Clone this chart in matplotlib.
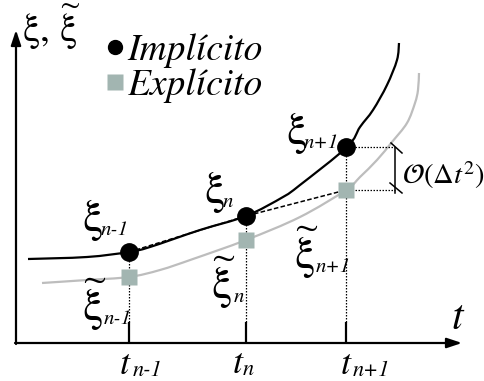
import matplotlib
matplotlib.use('Agg')
import matplotlib.pyplot as plt
from matplotlib.lines import Line2D
from matplotlib.path import Path
from matplotlib.patches import PathPatch

plt.rcParams['mathtext.fontset'] = 'stix'
plt.rcParams['font.family'] = 'STIXGeneral'

# time instants and values at them
t_ticks = [113, 230, 330]
tick_subs = ['n-1', 'n', 'n+1']
xi_impl = [91, 127, 196]
xi_expl = [66, 103, 153]

# exact (implicit) curve
impl_t = [12, 71, 113, 134, 184, 230, 267, 284, 331, 344, 357, 371, 381, 383]
impl_xi = [84, 86, 91, 96, 113, 127, 146, 158, 196, 216, 233, 258, 283, 300]

# explicit curve
expl_t = [26, 71, 113, 144, 177, 230, 284, 330, 344, 361, 376, 391, 399, 402, 403]
expl_xi = [60, 63, 66, 73, 84, 103, 126, 153, 166, 183, 201, 220, 240, 253, 270]

# labels: base symbol + subscript, each with its own anchor
point_subs = ['n-1', 'n', 'n+1']
impl_base_pos = [(66, 123), (188, 151), (270, 210)]
impl_sub_pos = [(85, 113), (207, 141), (288, 200)]
expl_base_pos = [(66, 38), (195, 60), (278, 90)]
expl_sub_pos = [(88, 24), (218, 46), (300, 76)]
tick_t_pos = [(104, -22), (217, -21), (325, -22)]
tick_sub_pos = [(117, -28), (227, -27), (337, -28)]

black = 'black'
grey_line = '#bdbdbd'
grey_sq = '#a2b5b1'

XI = r'$\mathrm{\xi}$'
XI_T = r'$\widetilde{\mathrm{\xi}}$'


def smooth(xs, ys):
    # Catmull-Rom through the read points, drawn as cubic Bezier pieces
    pts = list(zip(xs, ys))
    verts = [pts[0]]
    codes = [Path.MOVETO]
    for i in range(len(pts) - 1):
        p0 = pts[max(i - 1, 0)]
        p1 = pts[i]
        p2 = pts[i + 1]
        p3 = pts[min(i + 2, len(pts) - 1)]
        c1 = (p1[0] + (p2[0] - p0[0]) / 6, p1[1] + (p2[1] - p0[1]) / 6)
        c2 = (p2[0] - (p3[0] - p1[0]) / 6, p2[1] - (p3[1] - p1[1]) / 6)
        verts += [c1, c2, p2]
        codes += [Path.CURVE4] * 3
    return Path(verts, codes)


fig = plt.figure(figsize=(4.85, 3.81), dpi=100)
ax = fig.add_axes([0, 0, 1, 1])
ax.set_xlim(-16, 469)
ax.set_ylim(-38, 343)
ax.axis('off')

# axes with arrows
arrow = dict(arrowstyle='-|>,head_length=0.9,head_width=0.3', lw=1.6, color=black,
             shrinkA=0, shrinkB=0)
ax.annotate('', xy=(446, 0), xytext=(-1, 0), arrowprops=arrow)
ax.annotate('', xy=(0, 313), xytext=(0, -1), arrowprops=arrow)
for t in t_ticks:
    ax.plot([t, t], [0, 21], color=black, lw=1.6, solid_capstyle='butt')

# curves
ax.add_patch(PathPatch(smooth(expl_t, expl_xi), fill=False, ec=grey_line, lw=1.6, zorder=2))
ax.add_patch(PathPatch(smooth(impl_t, impl_xi), fill=False, ec=black, lw=1.6, zorder=3))

# dotted guides
dots = (0, (1.2, 1.2))
for t, y in zip(t_ticks, xi_impl):
    ax.plot([t, t], [21, y], color=black, lw=0.9, ls=dots, zorder=1)
ax.plot([t_ticks[2], 379], [xi_impl[2], xi_impl[2]], color=black, lw=0.9, ls=dots)
ax.plot([t_ticks[2], 379], [xi_expl[2], xi_expl[2]], color=black, lw=0.9, ls=dots)

# explicit step (dashed)
ax.plot(t_ticks, [xi_impl[0], xi_impl[1], xi_expl[2]], color=black, lw=1.1,
        ls=(0, (3, 1.5)), zorder=4)

ax.plot(t_ticks, xi_expl, ls='none', marker='s', ms=12, color=grey_sq, mec='none', zorder=5)
ax.plot(t_ticks, xi_impl, ls='none', marker='o', ms=12.5, color=black, zorder=6)

# error bracket
ax.plot([379, 379], [xi_impl[2] - 1, xi_expl[2] - 3], color=black, lw=1.1)
ax.plot([375, 386], [xi_impl[2] + 4, xi_impl[2] - 6], color=black, lw=1.1)
ax.plot([374, 386], [xi_expl[2] + 7, xi_expl[2] - 3], color=black, lw=1.1)
ax.text(386, 168, r'$\mathcal{O}(\Delta t^2)$', fontsize=20.5, va='center', ha='left')

# point labels
for i in range(3):
    ax.text(*impl_base_pos[i], XI, fontsize=33, ha='left', va='center')
    ax.text(*impl_sub_pos[i], point_subs[i], fontsize=15, style='italic', ha='left', va='center')
    ax.text(*expl_base_pos[i], XI_T, fontsize=33, ha='left', va='center')
    ax.text(*expl_sub_pos[i], point_subs[i], fontsize=15, style='italic', ha='left', va='center')

# tick labels
for i in range(3):
    ax.text(*tick_t_pos[i], 't', fontsize=26, style='italic', ha='left', va='center')
    ax.text(*tick_sub_pos[i], tick_subs[i], fontsize=16, style='italic', ha='left', va='center')

ax.text(441, 24, 't', fontsize=30, style='italic', ha='center', va='center')
ax.text(6, 316, r'$\mathrm{\xi},\,\widetilde{\mathrm{\xi}}$', fontsize=28, ha='left', va='center')

handles = [Line2D([], [], ls='none', marker='o', ms=10, color=black),
           Line2D([], [], ls='none', marker='s', ms=11, color=grey_sq, mec='none')]
ax.legend(handles, ['Implícito', 'Explícito'], loc='upper left', bbox_to_anchor=(0.214, 0.912),
          frameon=False, handletextpad=0.02, handlelength=0.6, borderaxespad=0, borderpad=0,
          labelspacing=0.0, prop=dict(family='STIXGeneral', style='italic', size=27))

fig.savefig('out.png', dpi=100)
